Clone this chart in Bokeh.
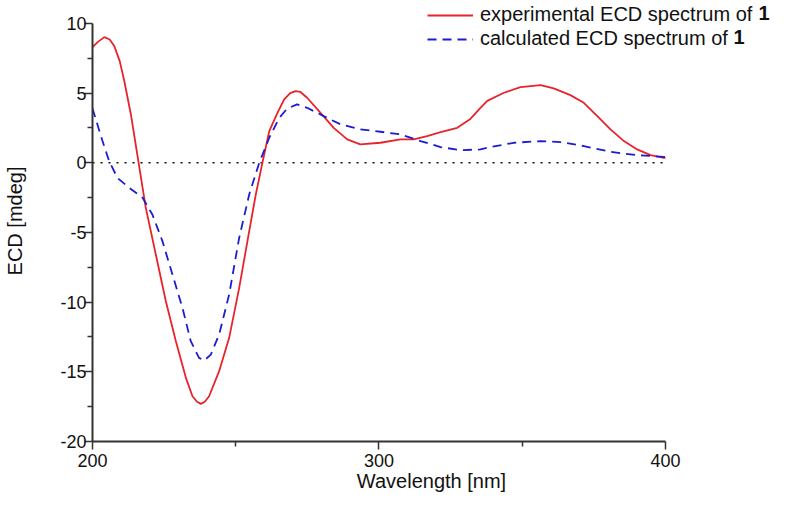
from bokeh.plotting import figure
from bokeh.models import (Range1d, FixedTicker, Legend, LegendItem, Label,
                          CustomJSTickFormatter)
from bokeh.embed import file_html
from bokeh.resources import INLINE

# ---- data ----
exp_wl = [200, 202, 204.1, 206, 207.6, 209.5, 211.1, 213.4, 216.1, 218.6, 222.1, 225.6,
          229.1, 232.6, 234.9, 236.5, 237.8, 239.2, 240.7, 244.2, 247.7, 251.2, 254.7,
          257.0, 259.3, 261.7, 264.6, 266.9, 269.0, 270.9, 272.5, 274.9, 279.6, 284.2,
          288.9, 293.5, 300.5, 307.5, 312.1, 316.8, 321.5, 327.3, 331.9, 335.4, 337.8,
          343.6, 349.4, 356.4, 361.0, 366.8, 371.5, 376.2, 380.8, 385.5, 390.1, 394.8,
          399.4, 400]
exp_ecd = [8.31, 8.7, 9.02, 8.85, 8.38, 7.3, 5.87, 3.47, 0.0, -3.23, -6.58, -9.93,
           -12.8, -15.43, -16.75, -17.15, -17.30, -17.15, -16.75, -14.95, -12.56, -8.97, -4.90,
           -2.27, 0.0, 2.28, 3.6, 4.55, 5.0, 5.15, 5.1, 4.67, 3.59, 2.51,
           1.68, 1.32, 1.44, 1.68, 1.68, 1.92, 2.20, 2.51, 3.15, 3.95, 4.45,
           5.03, 5.43, 5.58, 5.34, 4.86, 4.31, 3.35, 2.40, 1.56, 0.96, 0.55,
           0.36, 0.35]

calc_wl = [200, 203.5, 205.8, 208.7, 212.8, 217.5, 220.9, 224.4, 227.9, 231.4, 234.3,
           237.2, 239.0, 241.3, 244.2, 247.7, 251.2, 254.7, 258.2, 261.7, 265.2, 268.0,
           271.4, 274.9, 280.7, 286.6, 293.5, 300.5, 307.5, 314.5, 321.5, 328.4, 335.4,
           338.9, 347.0, 356.4, 363.4, 371.5, 380.8, 390.1, 399.4, 400]
calc_ecd = [3.90, 1.56, 0.13, -1.08, -1.79, -2.51, -3.71, -5.62, -8.01, -10.41, -12.8,
            -14.0, -14.19, -13.76, -12.32, -9.45, -5.38, -2.27, 0.0, 1.80, 3.23, 3.9,
            4.19, 3.95, 3.35, 2.76, 2.40, 2.23, 2.04, 1.56, 1.13, 0.91, 0.96,
            1.13, 1.44, 1.56, 1.49, 1.20, 0.79, 0.55, 0.43, 0.42]

x_major = [200, 300, 400]
x_minor = [250, 350]
y_major = [-20, -15, -10, -5, 0, 5, 10]
y_minor = [-17.5, -12.5, -7.5, -2.5, 2.5, 7.5]

exp_label = "experimental ECD spectrum of "
calc_label = "calculated ECD spectrum of "
bold_mark = "1"

FONT = "Liberation Sans"
RED = "#e8232b"
BLUE = "#1c1cd2"

# fixed canvas; the frame extends past 400 nm so the legend fits inside it
p = figure(width=770, height=494, output_backend="svg", toolbar_location=None,
           x_range=Range1d(200, 436.65), y_range=Range1d(-20, 11.65),
           min_border_left=92, min_border_right=0, min_border_top=0, min_border_bottom=53)
p.outline_line_color = None
p.xgrid.visible = False
p.ygrid.visible = False
p.background_fill_color = "white"
p.border_fill_color = "white"

# dotted zero line across the axis span
p.segment(x0=[x_major[0]], y0=[0], x1=[x_major[-1]], y1=[0],
          line_color="#111111", line_width=1.5, line_dash="2 6")

r_exp = p.line(exp_wl, exp_ecd, line_color=RED, line_width=1.8)
r_calc = p.line(calc_wl, calc_ecd, line_color=BLUE, line_width=1.8, line_dash="9 6")

fmt = CustomJSTickFormatter(code="return String(tick);")
for ax in (p.xaxis[0], p.yaxis[0]):
    ax.axis_line_width = 2
    ax.axis_line_color = "#333333"
    ax.major_tick_line_color = "#333333"
    ax.minor_tick_line_color = "#333333"
    ax.major_tick_line_width = 1.5
    ax.minor_tick_line_width = 1.5
    ax.major_tick_in = 0
    ax.major_tick_out = 8
    ax.minor_tick_in = 0
    ax.minor_tick_out = 5
    ax.major_label_text_font = FONT
    ax.major_label_text_font_size = "18px"
    ax.major_label_text_color = "#111111"
    ax.axis_label_text_font = FONT
    ax.axis_label_text_font_size = "20px"
    ax.axis_label_text_font_style = "normal"
    ax.axis_label_text_color = "#111111"
    ax.formatter = fmt

p.xaxis[0].ticker = FixedTicker(ticks=x_major, minor_ticks=x_minor)
p.yaxis[0].ticker = FixedTicker(ticks=y_major, minor_ticks=y_minor)
p.yaxis[0].bounds = (y_major[0], y_major[-1])
p.xaxis[0].bounds = (x_major[0], x_major[-1])
p.xaxis[0].axis_label = "Wavelength [nm]"
p.yaxis[0].axis_label = "ECD [mdeg]"
p.xaxis[0].major_label_standoff = 4
p.xaxis[0].axis_label_standoff = 0
p.yaxis[0].major_label_standoff = -2
p.yaxis[0].axis_label_standoff = 31

legend = Legend(items=[LegendItem(label=exp_label, renderers=[r_exp]),
                       LegendItem(label=calc_label, renderers=[r_calc])],
                location=(335, 391), orientation="vertical",
                padding=0, margin=0, spacing=1,
                glyph_width=46, glyph_height=22, label_height=22,
                label_standoff=7,
                label_text_font=FONT, label_text_font_size="20px",
                label_text_color="#111111",
                border_line_color=None, background_fill_alpha=0)
p.add_layout(legend)

p.add_layout(Label(x=666, y=429, x_units="screen", y_units="screen", text=bold_mark,
                   text_font=FONT, text_font_size="20px", text_font_style="bold",
                   text_baseline="middle", text_color="#111111"))
p.add_layout(Label(x=641, y=405, x_units="screen", y_units="screen", text=bold_mark,
                   text_font=FONT, text_font_size="20px", text_font_style="bold",
                   text_baseline="middle", text_color="#111111"))

open("out.html", "w").write(file_html(p, INLINE))
